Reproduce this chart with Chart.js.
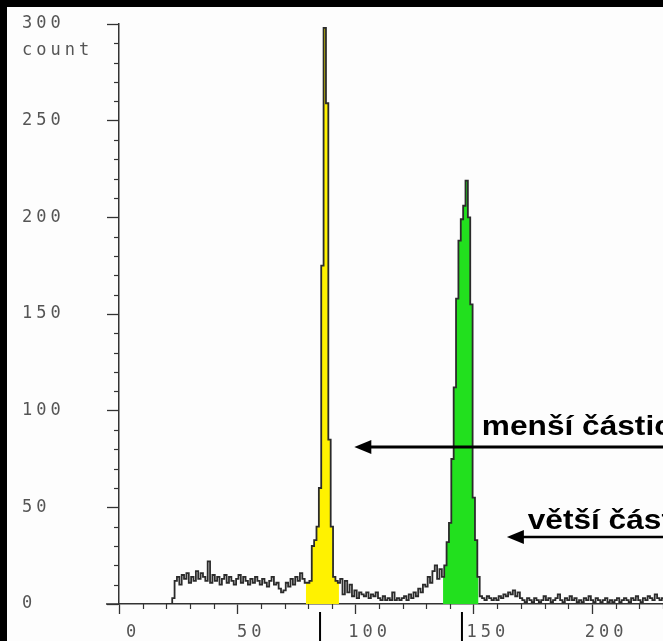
<!DOCTYPE html>
<html><head><meta charset="utf-8">
<script src="https://cdn.jsdelivr.net/npm/chart.js@4/dist/chart.umd.min.js"></script>
<style>
html,body{margin:0;padding:0;background:#000;overflow:hidden;}
#wrap{position:relative;width:663px;height:641px;}
</style></head>
<body><div id="wrap"><canvas id="c"></canvas></div>
<script>
// ---- data (channel -> count) ----
const xTickValues = [0, 50, 100, 150, 200];
const yTickValues = [0, 50, 100, 150, 200, 250, 300];
const yAxisUnit = 'count';

const noiseLeftStart = 20;
const noiseLeft = [0, 0, 0, 3, 12, 14, 10, 15, 13, 16, 11, 14, 12, 17, 13, 16, 14, 12, 22, 11,
  15, 12, 14, 10, 13, 15, 11, 14, 12, 10, 13, 15, 11, 14, 12, 10, 13, 11, 14, 12,
  10, 13, 11, 9, 12, 14, 10, 11, 8, 6, 7, 11, 9, 13, 10, 14, 12, 16, 13];

const yellowStart = 79;
const yellowPeak = [11, 11, 12, 30, 33, 40, 60, 175, 298, 259, 85, 40, 14, 12, 11];

const noiseMidStart = 94;
const noiseMid = [13, 5, 12, 6, 10, 4, 7, 3, 6, 5, 4, 6, 3, 5, 4, 6, 3, 2, 4,
  2, 3, 2, 6, 2, 3, 2, 3, 4, 2, 5, 3, 6, 4, 8, 6, 10, 9, 14, 11, 17, 20, 13, 18];

const greenStart = 137;
const greenPeak = [14, 20, 32, 42, 75, 112, 158, 188, 199, 206, 219, 200, 155, 55, 33, 14];

const noiseRightStart = 153;
const noiseRight = [4, 3, 2, 4, 3, 2, 3, 2, 4, 3, 5, 4, 6, 5, 7, 4, 6, 3, 2, 1,
  3, 2, 1, 3, 2, 1, 2, 4, 2, 3, 1, 2, 3, 5, 2, 1, 3, 2, 4, 2,
  3, 1, 2, 1, 3, 2, 4, 2, 1, 3, 2, 1, 2, 3, 1, 2, 1, 2, 3, 1,
  2, 3, 2, 1, 3, 2, 4, 2, 1, 3, 2, 4, 3, 2, 5, 3, 2, 3];

const gateMarkers = [85, 145];
const annotationTexts = ['menší částice', 'větší částice'];

// ---- build datasets ----
function series(start, arr) { return arr.map((v, i) => ({ x: start + i, y: v })); }
const histogram = [].concat(
  series(noiseLeftStart, noiseLeft),
  series(yellowStart, yellowPeak),
  series(noiseMidStart, noiseMid),
  series(greenStart, greenPeak),
  series(noiseRightStart, noiseRight)
);

const TICK_FONT = { family: "'DejaVu Sans Mono', monospace", size: 17 };
const TICK_COLOR = '#555';
const SPACING = '4px';

// annotation placement (data coordinates)
const annotationLayout = [
  { textX: 153.4, textY: 87.5, tipX: 99.5, arrowY: 81.2, width: 3 },
  { textX: 172.8, textY: 39, tipX: 164, arrowY: 34.7, width: 2.5 }
];

const decor = {
  id: 'decor',
  beforeDraw(chart) {
    const { ctx, width, height } = chart;
    ctx.save();
    ctx.fillStyle = '#000'; ctx.fillRect(0, 0, width, height);
    ctx.fillStyle = '#fdfdfd'; ctx.fillRect(7, 7, width - 7, height - 7);
    ctx.restore();
    ctx.letterSpacing = SPACING;
  },
  afterDraw(chart) {
    const { ctx, chartArea: a, scales: { x, y } } = chart;
    ctx.save();
    ctx.strokeStyle = '#333'; ctx.lineWidth = 1.2;
    for (let v = 10; v < 300; v += 10) {
      if (v % 50 === 0) continue;
      const py = Math.round(y.getPixelForValue(v)) + 0.5;
      ctx.beginPath(); ctx.moveTo(a.left - 5, py); ctx.lineTo(a.left, py); ctx.stroke();
    }
    for (let v = 10; v <= 230; v += 10) {
      if (v % 50 === 0) continue;
      const pxx = Math.round(x.getPixelForValue(v)) + 0.5;
      ctx.beginPath(); ctx.moveTo(pxx, a.bottom); ctx.lineTo(pxx, a.bottom + 5); ctx.stroke();
    }
    ctx.lineWidth = 1.5;
    ctx.beginPath(); ctx.moveTo(a.left - 13, a.bottom); ctx.lineTo(a.left, a.bottom); ctx.stroke();
    ctx.strokeStyle = '#000'; ctx.lineWidth = 2;
    gateMarkers.forEach(g => {
      const gx = x.getPixelForValue(g);
      ctx.beginPath(); ctx.moveTo(gx, a.bottom + 8); ctx.lineTo(gx, chart.height); ctx.stroke();
    });
    ctx.letterSpacing = SPACING;
    ctx.fillStyle = TICK_COLOR; ctx.font = "17px 'DejaVu Sans Mono'";
    ctx.textBaseline = 'alphabetic'; ctx.textAlign = 'left';
    ctx.fillText(yAxisUnit, y.left, y.getPixelForValue(300) + 31);
    ctx.letterSpacing = '0px';
    ctx.fillStyle = '#000'; ctx.strokeStyle = '#000';
    ctx.font = "bold 28px 'Liberation Sans', Arial, sans-serif";
    const stretch = 1.13;
    annotationLayout.forEach((L, i) => {
      const tX = x.getPixelForValue(L.textX), tY = y.getPixelForValue(L.textY);
      ctx.save();
      ctx.translate(tX, tY); ctx.scale(stretch, 1);
      ctx.fillText(annotationTexts[i], 0, 0);
      ctx.restore();
      const tx = x.getPixelForValue(L.tipX), ay = y.getPixelForValue(L.arrowY);
      ctx.lineWidth = L.width;
      ctx.beginPath(); ctx.moveTo(tx + 12, ay); ctx.lineTo(chart.width, ay); ctx.stroke();
      ctx.beginPath(); ctx.moveTo(tx, ay); ctx.lineTo(tx + 17, ay - 7); ctx.lineTo(tx + 17, ay + 7); ctx.closePath(); ctx.fill();
    });
    ctx.restore();
  }
};

new Chart(document.getElementById('c'), {
  type: 'line',
  data: {
    datasets: [
      { label: 'histogram', data: histogram, stepped: 'middle', borderColor: '#2b2b2b', borderWidth: 1.8,
        pointRadius: 0, fill: false, order: 0 },
      { label: 'menší částice', data: series(yellowStart, yellowPeak), stepped: 'middle', borderWidth: 0,
        borderColor: 'rgba(0,0,0,0)', backgroundColor: '#fff200', fill: 'origin', pointRadius: 0, order: 1 },
      { label: 'větší částice', data: series(greenStart, greenPeak), stepped: 'middle', borderWidth: 0,
        borderColor: 'rgba(0,0,0,0)', backgroundColor: '#22e01e', fill: 'origin', pointRadius: 0, order: 1 }
    ]
  },
  options: {
    responsive: true, maintainAspectRatio: false, animation: false,
    layout: { padding: { left: 22, top: 24, right: 0, bottom: 0 } },
    plugins: { legend: { display: false }, tooltip: { enabled: false } },
    scales: {
      x: {
        type: 'linear', min: 0, max: 230,
        afterBuildTicks: s => { s.ticks = xTickValues.map(v => ({ value: v })); },
        afterFit: s => { s.height = 37; },
        grid: { drawOnChartArea: false, drawTicks: true, tickLength: 10, tickColor: '#333', tickWidth: 1.3 },
        border: { display: true, color: '#333', width: 1.5 },
        ticks: { font: TICK_FONT, color: TICK_COLOR, padding: 8, labelOffset: 14, maxRotation: 0, autoSkip: false,
          callback: v => String(v) }
      },
      y: {
        type: 'linear', min: 0, max: 300,
        afterBuildTicks: s => { s.ticks = yTickValues.map(v => ({ value: v })); },
        afterFit: s => { s.width = 97; },
        grid: { drawOnChartArea: false, drawTicks: true, tickLength: 12, tickColor: '#333', tickWidth: 1.3 },
        border: { display: true, color: '#333', width: 1.5 },
        ticks: { font: TICK_FONT, color: TICK_COLOR, padding: 4, crossAlign: 'far', autoSkip: false,
          callback: v => String(v) }
      }
    }
  },
  plugins: [decor]
});
</script>
</body></html>
